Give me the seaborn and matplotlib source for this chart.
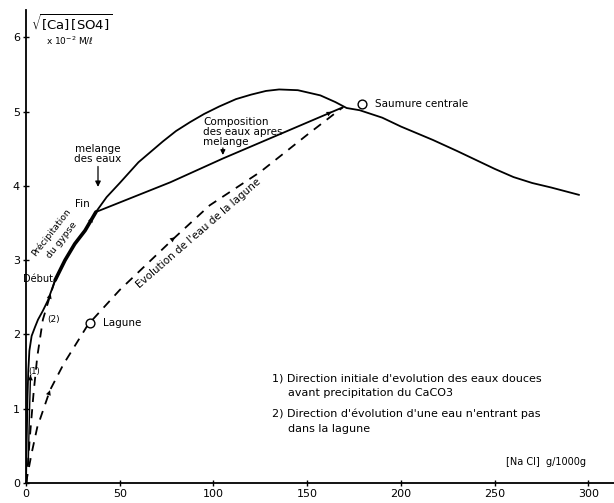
import numpy as np
import pandas as pd
import seaborn as sns
import matplotlib
matplotlib.use("Agg")
import matplotlib.pyplot as plt

# ---------------- data ----------------
# main saturation curve (solid)
main_x = [0, 0.4, 0.8, 1.2, 1.8, 3.0, 4.8, 6.4, 9.0, 11.7, 15.5, 20.8, 26.0, 31.5, 37.3,
          43, 50, 60, 73, 80, 87.5, 95, 103, 112, 120, 128, 135, 145, 157, 165, 171,
          178, 190, 200, 217, 230, 240, 250, 260, 270, 280, 295]
main_y = [0.0, 0.6, 1.15, 1.5, 1.78, 1.98, 2.1, 2.2, 2.32, 2.46, 2.73, 3.0, 3.22, 3.4, 3.65,
          3.85, 4.04, 4.32, 4.6, 4.74, 4.86, 4.97, 5.07, 5.17, 5.23, 5.28, 5.30, 5.29, 5.22,
          5.13, 5.05, 5.02, 4.92, 4.80, 4.62, 4.47, 4.35, 4.23, 4.12, 4.04, 3.98, 3.88]
# gypsum precipitation segment (Début -> Fin)
gyp_x = [15.5, 20.8, 26.0, 31.5, 37.3]
gyp_y = [2.73, 3.0, 3.22, 3.4, 3.65]
# mixing line (Fin -> Saumure centrale)
mix_x = [37.3, 77, 105, 169]
mix_y = [3.65, 4.05, 4.37, 5.06]
# lagoon water evolution (dashed)
lag_x = [0, 3, 6, 12.8, 20, 33, 50, 79.5, 98, 125, 151, 169]
lag_y = [0.0, 0.4, 0.75, 1.25, 1.6, 2.13, 2.6, 3.31, 3.74, 4.19, 4.71, 5.06]
# direction (2) (dashed)
d2_x = [0.3, 2, 4, 6, 9, 12.8, 15.5]
d2_y = [0.0, 0.6, 1.2, 1.7, 2.2, 2.52, 2.73]
# direction (1) (solid short)
d1_x = [1.2, 1.8, 2.4]
d1_y = [0.25, 0.9, 1.45]
# remarkable points
pts_x = [34, 179]
pts_y = [2.15, 5.11]
pts_names = ["Lagune", "Saumure centrale"]

xticks = [0, 50, 100, 150, 200, 250, 300]
yticks = [0, 1, 2, 3, 4, 5, 6]

# ---------------- figure ----------------
sns.set_theme(style="white")
plt.rcParams['font.family'] = ['DejaVu Sans']
plt.rcParams['text.color'] = 'black'
plt.rcParams['xtick.color'] = 'black'
plt.rcParams['ytick.color'] = 'black'
fig = plt.figure(figsize=(6.14, 5.03), dpi=100)
ax = fig.add_axes([26/614, 20/503, 588/614, 473/503])

def line(x, y, ls="-", lw=1.3):
    df = pd.DataFrame({"x": x, "y": y})
    sns.lineplot(data=df, x="x", y="y", ax=ax, color="black", sort=False,
                 estimator=None, linewidth=lw, linestyle=ls)

line(main_x, main_y)
line(gyp_x, gyp_y, lw=2.6)
line(mix_x, mix_y)
line(lag_x, lag_y, ls=(0, (5, 4)))
line(d2_x, d2_y, ls=(0, (5, 4)))
line(d1_x, d1_y, lw=1.0)

sns.scatterplot(x=pts_x, y=pts_y, ax=ax, s=40, facecolor="white",
                edgecolor="black", linewidth=1.0, zorder=5)

def arrow(x0, y0, x1, y1):
    ax.annotate("", xy=(x1, y1), xytext=(x0, y0),
                arrowprops=dict(arrowstyle="-|>", color="black", lw=0.01,
                                mutation_scale=9, shrinkA=0, shrinkB=0))

# arrowheads along the curves
arrow(10.5, 1.08, 12.8, 1.25)
arrow(76, 3.24, 79.5, 3.31)
arrow(158, 4.93, 163, 5.0)
arrow(11.5, 2.42, 13.2, 2.55)
arrow(2.2, 1.2, 2.4, 1.45)
arrow(33, 3.45, 35.5, 3.58)

# labels
fs = 7.5
ax.annotate("", xy=(38.4, 3.95), xytext=(38.4, 4.30),
            arrowprops=dict(arrowstyle="-|>", color="black", lw=0.9, mutation_scale=8))
ax.text(38.4, 4.43, "melange\ndes eaux", ha="center", va="center", fontsize=fs,
        linespacing=1.0)
ax.text(34, 3.76, "Fin", ha="right", va="center", fontsize=fs)
ax.text(6.5, 2.75, "Début", ha="center", va="center", fontsize=7)
ax.text(13.3, 3.38, "Précipitation", ha="center", va="center", fontsize=6.6, rotation=52)
ax.text(19.0, 3.27, "du gypse", ha="center", va="center", fontsize=6.8, rotation=52)
ax.text(14.5, 2.2, "(2)", ha="center", va="center", fontsize=6.5)
ax.text(4.2, 1.5, "(1)", ha="center", va="center", fontsize=6)

ax.text(94.5, 4.52, "Composition\ndes eaux apres\nmelange", ha="left", va="bottom",
        fontsize=fs, linespacing=1.0)
ax.annotate("", xy=(105, 4.38), xytext=(105, 4.55),
            arrowprops=dict(arrowstyle="-|>", color="black", lw=0.9, mutation_scale=7))

ax.text(92, 3.36, "Evolution de l'eau de la lagune", ha="center", va="center",
        fontsize=fs, rotation=41)
ax.text(pts_x[0] + 7, pts_y[0], pts_names[0], ha="left", va="center", fontsize=fs)
ax.text(pts_x[1] + 7, pts_y[1], pts_names[1], ha="left", va="center", fontsize=fs)

ax.text(131, 1.41, "1) Direction initiale d'evolution des eaux douces", ha="left",
        va="center", fontsize=8)
ax.text(139.5, 1.21, "avant precipitation du CaCO3", ha="left", va="center", fontsize=8)
ax.text(131, 0.93, "2) Direction d'évolution d'une eau n'entrant pas", ha="left",
        va="center", fontsize=8)
ax.text(139.5, 0.73, "dans la lagune", ha="left", va="center", fontsize=8)

ax.text(256, 0.28, "[Na Cl]  g/1000g", ha="left", va="center", fontsize=7)
ax.text(2.5, 6.2, r"$\sqrt{\mathrm{[Ca]\,[SO4]}}$", ha="left", va="center", fontsize=9.5)
ax.text(10.5, 5.96, r"x 10$^{-2}$ M/ℓ", ha="left", va="center", fontsize=6.5)

# axes
ax.set_xlim(0, 313.6)
ax.set_ylim(0, 6.37)
ax.set_xticks(xticks)
ax.set_yticks(yticks)
ax.set_xticklabels([str(t) for t in xticks], fontsize=8)
ax.set_yticklabels([str(t) for t in yticks], fontsize=8)
ax.set_xlabel("")
ax.set_ylabel("")
for s in ["top", "right"]:
    ax.spines[s].set_visible(False)
for s in ["left", "bottom"]:
    ax.spines[s].set_color("black")
    ax.spines[s].set_linewidth(1.3)
ax.tick_params(axis="both", direction="inout", length=5, width=1.0, colors="black",
               pad=2, left=True, bottom=True)

fig.savefig("out.png", dpi=100, facecolor="white")
